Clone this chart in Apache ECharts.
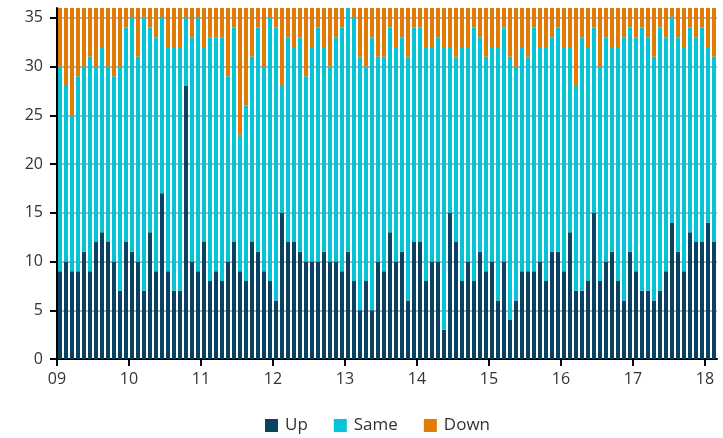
<!DOCTYPE html>
<html><head><meta charset="utf-8">
<script src="https://cdn.jsdelivr.net/npm/echarts@6/dist/echarts.min.js"></script>
<style>html,body{margin:0;padding:0;background:#fff}#c{width:723px;height:438px}</style>
</head><body><div id="c"></div>
<script>
// Monthly, Jan 2009 .. Feb 2018
const yearLabels = ['09','10','11','12','13','14','15','16','17','18'];
const TOTAL = 36;
const upValues = [
  9,10,9,9,11,9,12,13,12,10,7,12,11,10,7,13,9,17,
  9,7,7,28,10,9,12,8,9,8,10,12,9,8,12,11,9,8,6,
  15,12,12,11,10,10,10,11,10,10,9,11,8,5,8,5,10,9,13,
  10,11,6,12,12,8,10,10,3,15,12,8,10,8,11,9,10,6,10,4,
  6,9,9,9,10,8,11,11,9,13,7,7,8,15,8,10,11,8,6,
  11,9,7,7,6,7,9,14,11,9,13,12,12,14,12
];
// cumulative Up + Same
const upPlusSame = [
  30,28,25,29,30,31,30,32,30,29,30,34,35,31,35,34,33,35,
  32,32,32,35,33,35,32,33,33,33,29,34,23,26,31,34,30,35,34,
  28,33,32,33,29,32,34,32,30,33,34,36,35,31,30,33,31,31,34,
  32,33,31,34,34,32,32,33,32,32,31,32,32,34,33,31,32,32,34,31,
  30,32,31,34,32,32,33,34,32,32,28,33,32,34,30,33,32,32,33,
  34,33,34,33,31,34,33,35,33,32,34,33,34,32,31
];
const sameValues = upPlusSame.map((t,i)=>t-upValues[i]);
const downValues = upPlusSame.map(t=>TOTAL-t);
const months = upValues.map((_,i)=>String(i));

const chart = echarts.init(document.getElementById('c'));
const font = 'Open Sans';
chart.setOption({
  animation:false,
  textStyle:{fontFamily:font},
  grid:{left:57,right:6,top:8,bottom:79},
  legend:{bottom:-1,left:260,icon:'rect',itemWidth:13,itemHeight:13,itemGap:26,
    textStyle:{fontSize:17,color:'#333',fontFamily:font,padding:[0,0,0,2]},
    data:['Up','Same','Down']},
  xAxis:[
    {type:'category',data:months,
     axisLine:{lineStyle:{color:'#000',width:2}},
     axisTick:{show:false},axisLabel:{show:false},splitLine:{show:false}},
    {type:'value',min:0,max:upValues.length,position:'bottom',
     axisLine:{show:false},
     axisTick:{show:true,length:7,customValues:yearLabels.map((_,i)=>i*12),lineStyle:{color:'#000',width:2}},
     axisLabel:{customValues:yearLabels.map((_,i)=>i*12),formatter:v=>yearLabels[Math.round(v/12)],
       fontSize:16,color:'#333',margin:12,fontFamily:font},
     splitLine:{show:false}}
  ],
  yAxis:{type:'value',min:0,max:TOTAL,interval:5,
    axisLine:{show:true,lineStyle:{color:'#000',width:2}},
    axisTick:{show:true,length:7,lineStyle:{color:'#000',width:2}},
    axisLabel:{fontSize:16,color:'#333',margin:14,fontFamily:font,showMaxLabel:false,
      formatter:v=>v%5===0?String(v):''},
    splitLine:{show:true,showMaxLine:false,lineStyle:{color:'#9a9a9a',width:1.5}}},
  series:[
    {name:'Up',type:'bar',stack:'a',data:upValues,barCategoryGap:'33%',itemStyle:{color:'#0b4262'}},
    {name:'Same',type:'bar',stack:'a',data:sameValues,itemStyle:{color:'#06c3d6'}},
    {name:'Down',type:'bar',stack:'a',data:downValues,itemStyle:{color:'#e07c05'}}
  ]
});
</script></body></html>
